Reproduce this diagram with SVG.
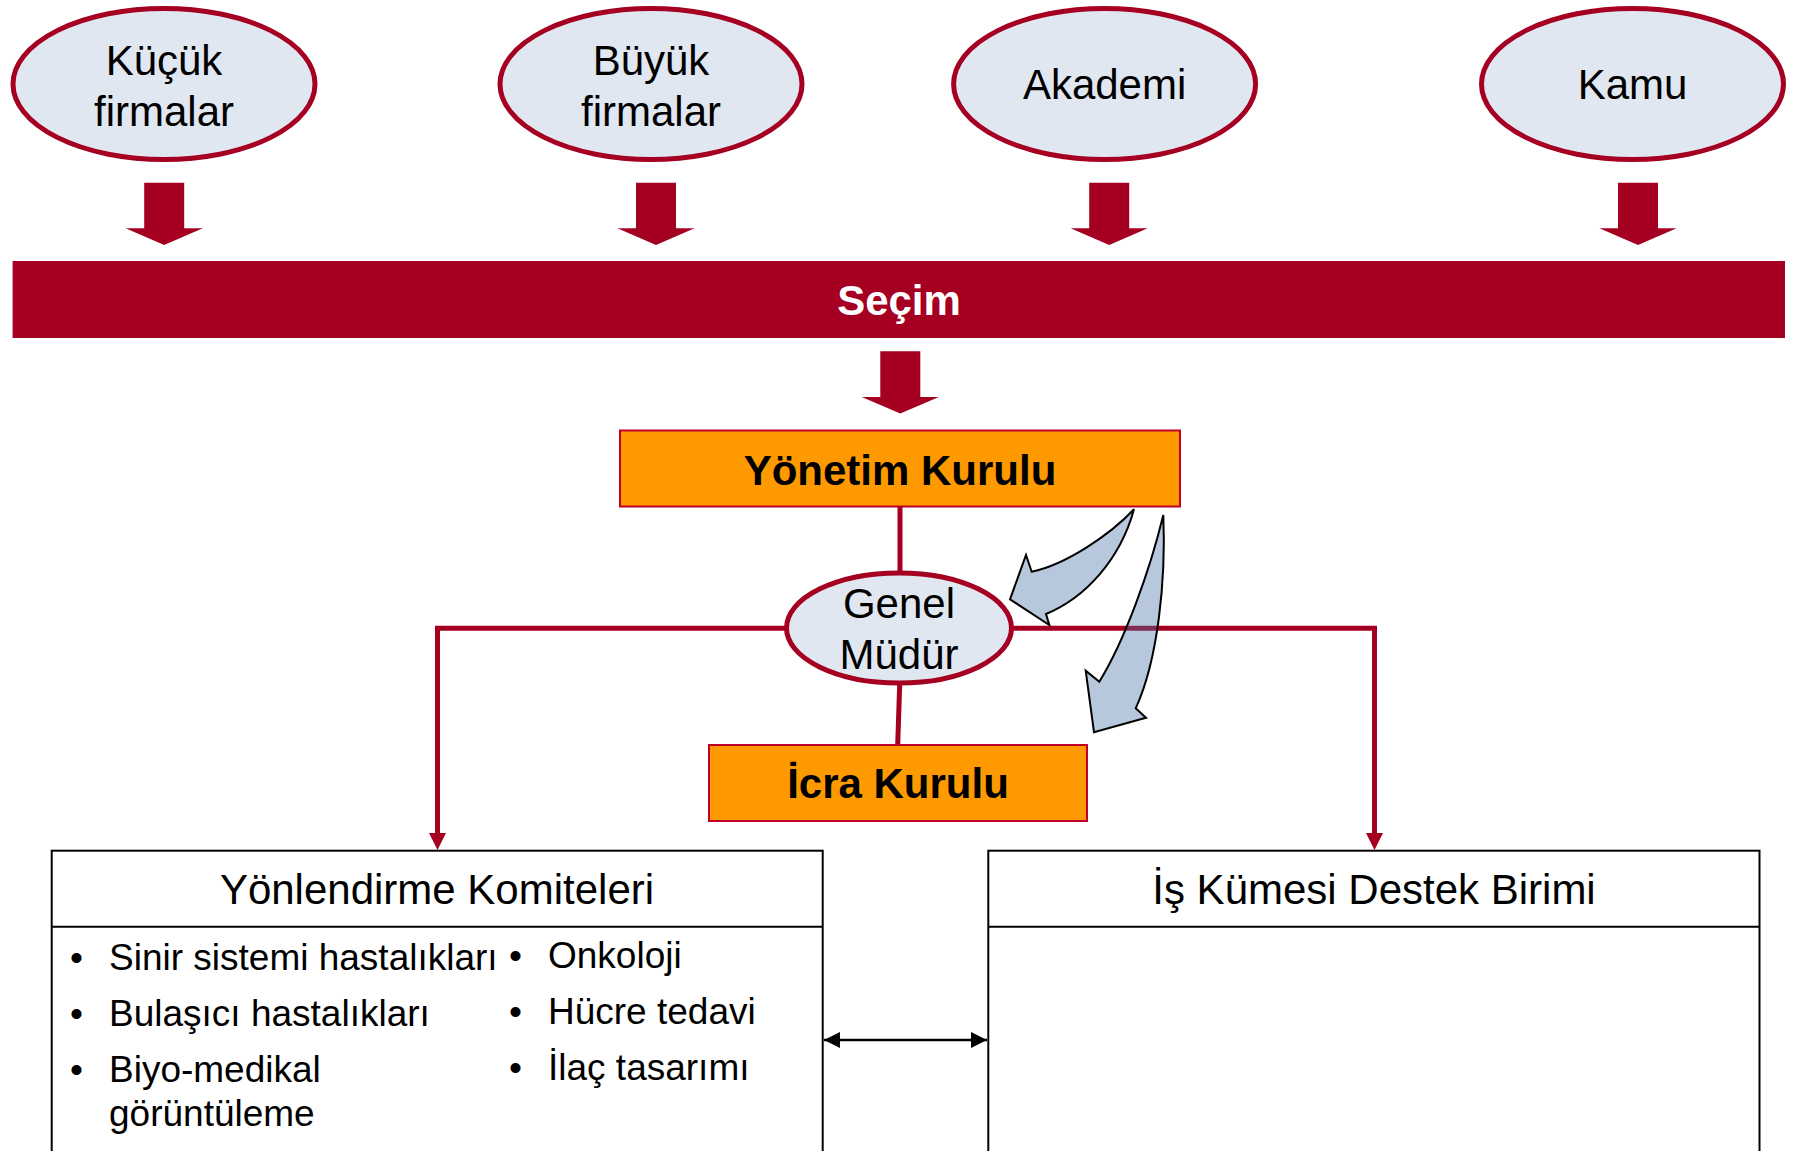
<svg xmlns="http://www.w3.org/2000/svg" xmlns:xlink="http://www.w3.org/1999/xlink" width="1801" height="1151" viewBox="0 0 1801 1151">
<style>
text{font-family:"Liberation Sans",Arial,sans-serif;fill:#000}
.ell{fill:#E0E7F1;stroke:#A50021;stroke-width:5}
.et{font-size:42px;text-anchor:middle}
.bold{font-weight:bold}
.orange{fill:#FF9900;stroke:#C0002A;stroke-width:2}
.red{fill:#A50021}
.conn{fill:none;stroke:#A50021;stroke-width:5}
.box{fill:#fff;stroke:#000;stroke-width:2}
.bt{font-size:37px}
.curv{fill:#4A73A8;fill-opacity:0.4;stroke:#000;stroke-width:2;stroke-linejoin:miter}
</style>
<defs>
<path id="blk" d="M-20,0 H20 V45.6 H38.6 L0,62.3 L-38.6,45.6 H-20 Z" fill="#A50021"/>
<marker id="dbl" viewBox="0 0 16 16" refX="16" refY="8" markerWidth="16" markerHeight="16" markerUnits="userSpaceOnUse" orient="auto-start-reverse">
<path d="M0,0 L16,8 L0,16 Z" fill="#000"/>
</marker>
</defs>
<rect width="1801" height="1151" fill="#fff"/>

<g id="kucuk">
<ellipse class="ell" cx="164" cy="84" rx="151" ry="75.5"/>
<text class="et" x="164" y="75">Küçük</text>
<text class="et" x="164" y="126">firmalar</text>
</g>
<g id="buyuk">
<ellipse class="ell" cx="651" cy="84" rx="151" ry="75.5"/>
<text class="et" x="651" y="75">Büyük</text>
<text class="et" x="651" y="126">firmalar</text>
</g>
<g id="akademi">
<ellipse class="ell" cx="1104.6" cy="84" rx="151" ry="75.5"/>
<text class="et" x="1104.6" y="99">Akademi</text>
</g>
<g id="kamu">
<ellipse class="ell" cx="1632.5" cy="84" rx="151" ry="75.5"/>
<text class="et" x="1632.5" y="99">Kamu</text>
</g>

<g id="secim">
<rect class="red" x="12.6" y="261" width="1772.4" height="77"/>
<text class="et bold" x="899" y="315" style="fill:#fff">Seçim</text>
</g>

<g id="yonetim">
<rect class="orange" x="620" y="430.5" width="560" height="76"/>
<text class="et bold" x="900" y="485">Yönetim Kurulu</text>
</g>

<g id="connectors">
<use href="#blk" x="164.2" y="182.7"/>
<use href="#blk" x="656" y="182.7"/>
<use href="#blk" x="1109.2" y="182.7"/>
<use href="#blk" x="1638" y="182.7"/>
<use href="#blk" x="900.3" y="351.3"/>
<line class="conn" x1="900" y1="506" x2="900" y2="572"/>
<line class="conn" x1="899.7" y1="684" x2="897.7" y2="745"/>
<path class="conn" d="M437.5,834 V628.3 H1374.5 V834"/>
<path class="red" d="M429,833 H446 L437.5,850 Z"/>
<path class="red" d="M1366,833 H1383 L1374.5,850 Z"/>
<line x1="824" y1="1040" x2="987" y2="1040" stroke="#000" stroke-width="2.5" marker-start="url(#dbl)" marker-end="url(#dbl)"/>
</g>

<g id="genel">
<ellipse class="ell" cx="899" cy="628" rx="112.5" ry="55"/>
<text class="et" x="899" y="618">Genel</text>
<text class="et" x="899" y="669">Müdür</text>
</g>

<g id="icra">
<rect class="orange" x="709" y="745" width="378" height="76"/>
<text class="et bold" x="898" y="798">İcra Kurulu</text>
</g>

<g id="curved-arrows">
<path class="curv" d="M1134,509.3 C1110,535 1065,565 1031.7,571.7 L1026,555 L1010,599.3 L1049.3,625 L1046,614 C1085,598 1120,560 1134,509.3 Z"/>
<path class="curv" d="M1163.3,515 C1166,580 1158,660 1135.7,708.3 L1146,717.7 L1094,732.3 L1085.7,670.7 L1099.3,681.7 C1125,640 1150,570 1163.3,515 Z"/>
</g>

<g id="yonlendirme">
<rect class="box" x="51.7" y="850.7" width="771" height="320"/>
<line x1="51.7" y1="926.7" x2="822.7" y2="926.7" stroke="#000" stroke-width="2"/>
<text class="et" x="437" y="904">Yönlendirme Komiteleri</text>
<text class="bt" x="70" y="970">•</text>
<text class="bt" x="109" y="970">Sinir sistemi hastalıkları</text>
<text class="bt" x="70" y="1026">•</text>
<text class="bt" x="109" y="1026">Bulaşıcı hastalıkları</text>
<text class="bt" x="70" y="1082">•</text>
<text class="bt" x="109" y="1082">Biyo-medikal</text>
<text class="bt" x="109" y="1126">görüntüleme</text>
<text class="bt" x="509" y="968">•</text>
<text class="bt" x="548" y="968">Onkoloji</text>
<text class="bt" x="509" y="1024">•</text>
<text class="bt" x="548" y="1024">Hücre tedavi</text>
<text class="bt" x="509" y="1080">•</text>
<text class="bt" x="548" y="1080">İlaç tasarımı</text>
</g>

<g id="is-kumesi">
<rect class="box" x="988.3" y="850.7" width="771.2" height="320"/>
<line x1="988.3" y1="926.7" x2="1759.5" y2="926.7" stroke="#000" stroke-width="2"/>
<text class="et" x="1374" y="904">İş Kümesi Destek Birimi</text>
</g>
</svg>
